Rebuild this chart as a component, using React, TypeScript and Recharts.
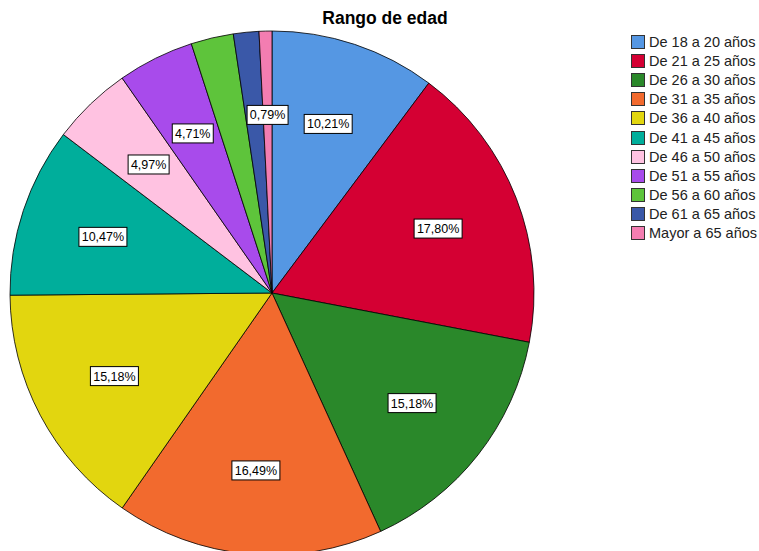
import { PieChart, Pie, Cell, Legend } from "recharts";

const categories = [
    "De 18 a 20 años",
    "De 21 a 25 años",
    "De 26 a 30 años",
    "De 31 a 35 años",
    "De 36 a 40 años",
    "De 41 a 45 años",
    "De 46 a 50 años",
    "De 51 a 55 años",
    "De 56 a 60 años",
    "De 61 a 65 años",
    "Mayor a 65 años",
];

// porcentajes
const percents = [10.21, 17.80, 15.18, 16.49, 15.18, 10.47, 4.97, 4.71, 2.62, 1.57, 0.79];

const colors = [
    "#5597e3",
    "#d40033",
    "#2a882a",
    "#f26a2e",
    "#e2d60f",
    "#00ae9b",
    "#ffc2e1",
    "#a84beb",
    "#5ec43b",
    "#3a58a8",
    "#f37db1",
];

// these two slices have no label in the original
const noLabel = ["De 56 a 60 años", "De 61 a 65 años"];

const data = categories.map((c, i) => ({ name: c, value: percents[i] }));

const RADIAN = Math.PI / 180;
const font = "'Liberation Sans', Arial, sans-serif";

const renderLabel = (props: any) => {
    const { cx, cy, midAngle, outerRadius, name, value } = props;
    if (noLabel.includes(name)) return null;
    const r = outerRadius * 0.68;
    const x = cx + r * Math.cos(-midAngle * RADIAN);
    const y = cy + r * Math.sin(-midAngle * RADIAN);
    const text = value.toFixed(2).replace(".", ",") + "%";
    const w = text.length * 7 + 6;
    return (
        <g>
            <rect x={x - w / 2} y={y - 9.5} width={w} height={19} fill="#fff" stroke="#000" strokeWidth={1} />
            <text x={x} y={y + 4.5} textAnchor="middle" fontSize={12.5} fontFamily={font} fill="#000">
                {text}
            </text>
        </g>
    );
};

const renderLegend = () => (
    <div style={{ fontFamily: font, fontSize: 14.5, color: "#222" }}>
        {data.map((d, i) => (
            <div key={d.name} style={{ display: "flex", alignItems: "center", height: 19.2 }}>
                <span
                    style={{
                        display: "inline-block",
                        width: 12,
                        height: 12,
                        background: colors[i],
                        border: "1px solid #333",
                        marginRight: 4,
                    }}
                />
                <span>{d.name}</span>
            </div>
        ))}
    </div>
);

export default function App() {
    return (
        <div style={{ position: "absolute", left: 0, top: 0, width: 759, height: 551, background: "#fff", overflow: "hidden" }}>
            <div
                style={{
                    position: "absolute",
                    top: 8,
                    left: 0,
                    width: 770,
                    textAlign: "center",
                    fontFamily: font,
                    fontWeight: "bold",
                    fontSize: 17.5,
                    color: "#000",
                }}
            >
                Rango de edad
            </div>
            <PieChart width={759} height={551} margin={{ top: 0, right: 0, bottom: 0, left: 0 }}>
                <Pie
                    data={data}
                    dataKey="value"
                    nameKey="name"
                    cx={272}
                    cy={293}
                    outerRadius={262}
                    startAngle={90}
                    endAngle={-270}
                    stroke="#000"
                    strokeWidth={0.8}
                    label={renderLabel}
                    labelLine={false}
                    isAnimationActive={false}
                >
                    {data.map((d, i) => (
                        <Cell key={d.name} fill={colors[i]} />
                    ))}
                </Pie>
                <Legend
                    content={renderLegend}
                    layout="vertical"
                    verticalAlign="top"
                    align="right"
                    wrapperStyle={{ position: "absolute", left: 631, top: 32, width: 130 }}
                />
            </PieChart>
        </div>
    );
}
